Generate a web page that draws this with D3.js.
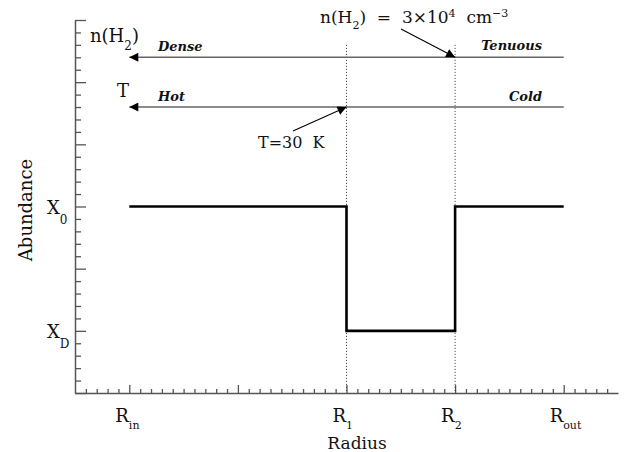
<!DOCTYPE html>
<html><head><meta charset="utf-8">
<script src="https://cdn.jsdelivr.net/npm/d3@7"></script>
<style>body{margin:0;background:#fff}svg{display:block}text{font-family:"DejaVu Serif",serif}</style>
</head><body>
<svg id="c" width="632" height="452"></svg>
<script>
// ---- data ----
const xMajorTicks = [1, 2, 3, 4, 5];
const xTickLabels = [{x:1, main:"R", sub:"in"}, {x:3, main:"R", sub:"1"}, {x:4, main:"R", sub:"2"}, {x:5, main:"R", sub:"out"}];
const yMajorTicks = [0, 1, 2, 3, 4, 5, 6];
const yTickLabels = [{y:3, main:"X", sub:"0"}, {y:1, main:"X", sub:"D"}];
const stepX = [1, 3, 3, 4, 4, 5];
const stepY = [3, 3, 1, 1, 3, 3];
const dottedX = [3, 4];
const dottedTop = 5.6;
const densityY = 5.4;
const tempY = 4.6;
const arrowFrom = 5, arrowTo = 1;

const svg = d3.select("#c");
const x = d3.scaleLinear().domain([0.5, 5.5]).range([75, 618]);
const y = d3.scaleLinear().domain([0, 6]).range([393, 20]);
const axisColor = "#555";

// minor ticks
const xMinor = d3.range(6, 55).map(d => d / 10).filter(d => Math.abs(d - Math.round(d)) > 1e-6);
const yMinor = d3.range(1, 30).map(d => d / 5).filter(d => Math.abs(d - Math.round(d)) > 1e-6);

function styleAxis(g){
  g.selectAll("path.domain").attr("stroke", axisColor).attr("stroke-width", 1.5);
  g.selectAll(".tick line").attr("stroke", axisColor).attr("stroke-width", 1.3);
  g.selectAll(".tick text").remove();
}
svg.append("g").attr("transform", `translate(0,${y(0)})`)
  .call(d3.axisBottom(x).tickValues(xMajorTicks).tickSizeInner(-8).tickSizeOuter(0).tickFormat(""))
  .call(styleAxis);
svg.append("g").attr("transform", `translate(0,${y(0)})`)
  .call(d3.axisBottom(x).tickValues(xMinor).tickSizeInner(-4).tickSizeOuter(0).tickFormat(""))
  .call(styleAxis).call(g => g.select("path.domain").remove());
svg.append("g").attr("transform", `translate(${x(0.5)},0)`)
  .call(d3.axisLeft(y).tickValues(yMajorTicks).tickSizeInner(-11).tickSizeOuter(0).tickFormat(""))
  .call(styleAxis);
svg.append("g").attr("transform", `translate(${x(0.5)},0)`)
  .call(d3.axisLeft(y).tickValues(yMinor).tickSizeInner(-6).tickSizeOuter(0).tickFormat(""))
  .call(styleAxis).call(g => g.select("path.domain").remove());

// tick labels with subscripts
xTickLabels.forEach(d => {
  const t = svg.append("text").attr("x", x(d.x) - 14).attr("y", 422).attr("font-size", 18).attr("fill", "#111");
  t.append("tspan").text(d.main);
  t.append("tspan").attr("dy", 7).attr("font-size", 11).text(d.sub);
});
yTickLabels.forEach(d => {
  const t = svg.append("text").attr("x", 47).attr("y", y(d.y) + 7).attr("font-size", 18).attr("fill", "#111");
  t.append("tspan").text(d.main);
  t.append("tspan").attr("dy", 10).attr("font-size", 12).text(d.sub);
});

// axis titles
svg.append("text").attr("x", 357).attr("y", 449).attr("text-anchor", "middle").attr("font-size", 17).attr("fill", "#111").text("Radius");
svg.append("text").attr("transform", "translate(32,210) rotate(-90)").attr("text-anchor", "middle").attr("font-size", 18).attr("fill", "#111").text("Abundance");

// dotted verticals
svg.selectAll("line.dot").data(dottedX).join("line")
  .attr("x1", d => x(d)).attr("x2", d => x(d)).attr("y1", y(dottedTop)).attr("y2", y(0))
  .attr("stroke", "#333").attr("stroke-width", 1).attr("stroke-dasharray", "1,2");

// step line
const pts = stepX.map((v, i) => [x(v), y(stepY[i])]);
svg.append("path").attr("d", d3.line()(pts)).attr("fill", "none").attr("stroke", "#000").attr("stroke-width", 2.6);

// arrowheads
const defs = svg.append("defs");
defs.append("marker").attr("id", "ah").attr("viewBox", "0 0 10 10").attr("refX", 10).attr("refY", 5)
  .attr("markerWidth", 11).attr("markerHeight", 9).attr("markerUnits", "userSpaceOnUse").attr("orient", "auto")
  .append("path").attr("d", "M0,0L10,5L0,10Z").attr("fill", "#000");

// horizontal arrows
[densityY, tempY].forEach(v => {
  svg.append("line").attr("x1", x(arrowFrom)).attr("x2", x(arrowTo)).attr("y1", y(v)).attr("y2", y(v))
    .attr("stroke", "#666").attr("stroke-width", 1.4).attr("marker-end", "url(#ah)");
});

// n(H2) and T labels
const nh = svg.append("text").attr("x", 90).attr("y", 42).attr("font-size", 18).attr("fill", "#111");
nh.append("tspan").text("n(H");
nh.append("tspan").attr("dy", 8).attr("font-size", 12).text("2");
nh.append("tspan").attr("dy", -8).text(")");
svg.append("text").attr("x", 117).attr("y", 97).attr("font-size", 18).attr("fill", "#111").text("T");

const ital = (tx, ty, s, anchor) => svg.append("text").attr("x", tx).attr("y", ty).attr("text-anchor", anchor)
  .attr("font-size", 13).attr("font-style", "italic").attr("font-weight", "bold").attr("fill", "#111").text(s);
ital(158, 51, "Dense", "start");
ital(158, 101, "Hot", "start");
ital(542, 50, "Tenuous", "end");
ital(542, 101, "Cold", "end");

// annotation: density
const an = svg.append("text").attr("x", 320).attr("y", 23).attr("font-size", 17).attr("fill", "#111")
  .attr("xml:space", "preserve").style("white-space", "pre");
an.append("tspan").text("n(H");
an.append("tspan").attr("dy", 6).attr("font-size", 11).text("2");
an.append("tspan").attr("dy", -6).text(")  =  3\u00D710");
an.append("tspan").attr("dy", -6).attr("font-size", 11).text("4");
an.append("tspan").attr("dy", 6).text("  cm");
an.append("tspan").attr("dy", -6).attr("font-size", 11).text("\u22123");
svg.append("line").attr("x1", 401).attr("y1", 29).attr("x2", x(4)).attr("y2", y(densityY))
  .attr("stroke", "#000").attr("stroke-width", 1.1).attr("marker-end", "url(#ah)");

// annotation: temperature
svg.append("text").attr("x", 258).attr("y", 148).attr("font-size", 16).attr("fill", "#111")
  .attr("xml:space", "preserve").style("white-space", "pre").text("T=30  K");
svg.append("line").attr("x1", 293).attr("y1", 131).attr("x2", x(3)).attr("y2", y(tempY))
  .attr("stroke", "#000").attr("stroke-width", 1.1).attr("marker-end", "url(#ah)");
</script>
</body></html>
